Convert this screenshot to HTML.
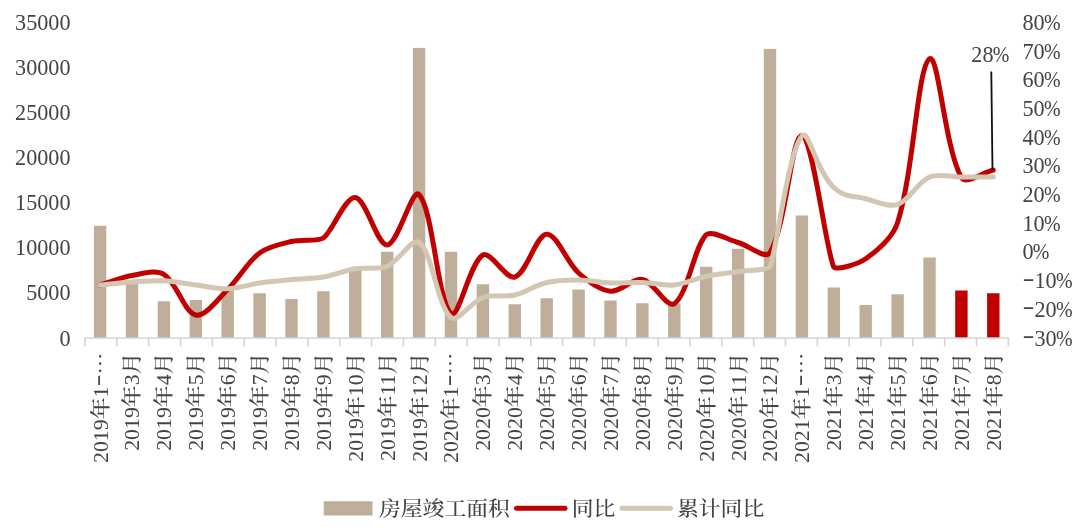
<!DOCTYPE html>
<html lang="zh"><head><meta charset="utf-8"><title>房屋竣工面积</title>
<style>html,body{margin:0;padding:0;background:#fff}svg{display:block;filter:blur(0.35px)}text{font-family:'Liberation Serif','Noto Serif CJK SC',serif;fill:#444}</style></head><body>
<svg width="1080" height="531" viewBox="0 0 1080 531">
<rect width="1080" height="531" fill="#fff"/>
<g>
<rect x="93.90" y="225.75" width="12.40" height="112.25" fill="#BFAE99"/>
<rect x="125.80" y="282.50" width="12.40" height="55.50" fill="#BFAE99"/>
<rect x="157.70" y="301.25" width="12.40" height="36.75" fill="#BFAE99"/>
<rect x="189.60" y="300.00" width="12.40" height="38.00" fill="#BFAE99"/>
<rect x="221.50" y="290.00" width="12.40" height="48.00" fill="#BFAE99"/>
<rect x="253.40" y="293.25" width="12.40" height="44.75" fill="#BFAE99"/>
<rect x="285.30" y="299.00" width="12.40" height="39.00" fill="#BFAE99"/>
<rect x="317.20" y="291.25" width="12.40" height="46.75" fill="#BFAE99"/>
<rect x="349.10" y="270.00" width="12.40" height="68.00" fill="#BFAE99"/>
<rect x="381.00" y="251.75" width="12.40" height="86.25" fill="#BFAE99"/>
<rect x="412.90" y="47.90" width="12.40" height="290.10" fill="#BFAE99"/>
<rect x="444.80" y="251.75" width="12.40" height="86.25" fill="#BFAE99"/>
<rect x="476.70" y="284.25" width="12.40" height="53.75" fill="#BFAE99"/>
<rect x="508.60" y="304.25" width="12.40" height="33.75" fill="#BFAE99"/>
<rect x="540.50" y="298.25" width="12.40" height="39.75" fill="#BFAE99"/>
<rect x="572.40" y="289.50" width="12.40" height="48.50" fill="#BFAE99"/>
<rect x="604.30" y="300.50" width="12.40" height="37.50" fill="#BFAE99"/>
<rect x="636.20" y="303.25" width="12.40" height="34.75" fill="#BFAE99"/>
<rect x="668.10" y="303.50" width="12.40" height="34.50" fill="#BFAE99"/>
<rect x="700.00" y="266.75" width="12.40" height="71.25" fill="#BFAE99"/>
<rect x="731.90" y="248.75" width="12.40" height="89.25" fill="#BFAE99"/>
<rect x="763.80" y="48.90" width="12.40" height="289.10" fill="#BFAE99"/>
<rect x="795.70" y="215.50" width="12.40" height="122.50" fill="#BFAE99"/>
<rect x="827.60" y="287.50" width="12.40" height="50.50" fill="#BFAE99"/>
<rect x="859.50" y="305.00" width="12.40" height="33.00" fill="#BFAE99"/>
<rect x="891.40" y="294.25" width="12.40" height="43.75" fill="#BFAE99"/>
<rect x="923.30" y="257.50" width="12.40" height="80.50" fill="#BFAE99"/>
<rect x="955.20" y="290.50" width="12.40" height="47.50" fill="#C00000"/>
<rect x="987.10" y="293.25" width="12.40" height="44.75" fill="#C00000"/>
</g>
<g stroke="#D4D4D4" stroke-width="1.6" fill="none">
<path d="M84.20 338.00 H1009.16"/>
<path d="M85.00 338.00 V346.20M116.84 338.00 V346.20M148.68 338.00 V346.20M180.52 338.00 V346.20M212.36 338.00 V346.20M244.20 338.00 V346.20M276.04 338.00 V346.20M307.88 338.00 V346.20M339.72 338.00 V346.20M371.56 338.00 V346.20M403.40 338.00 V346.20M435.24 338.00 V346.20M467.08 338.00 V346.20M498.92 338.00 V346.20M530.76 338.00 V346.20M562.60 338.00 V346.20M594.44 338.00 V346.20M626.28 338.00 V346.20M658.12 338.00 V346.20M689.96 338.00 V346.20M721.80 338.00 V346.20M753.64 338.00 V346.20M785.48 338.00 V346.20M817.32 338.00 V346.20M849.16 338.00 V346.20M881.00 338.00 V346.20M912.84 338.00 V346.20M944.68 338.00 V346.20M976.52 338.00 V346.20M1008.36 338.00 V346.20"/>
</g>
<path d="M100.10 285.00 C110.63 281.87 121.25 277.30 132.00 275.50 C142.31 273.77 155.86 269.32 163.90 274.30 C176.92 282.36 184.04 312.20 195.80 315.00 C205.09 317.21 218.07 298.86 227.70 289.50 C239.13 278.40 247.21 262.32 259.60 253.00 C268.27 246.48 280.68 244.04 291.50 241.50 C301.74 239.09 318.01 241.71 323.40 238.00 C332.05 232.03 345.32 196.41 355.30 197.50 C366.38 198.72 376.90 245.48 387.20 245.00 C397.95 244.49 412.23 187.10 419.10 194.50 C433.29 209.79 437.34 300.80 451.00 313.75 C458.40 320.76 469.57 262.68 482.90 255.00 C490.63 250.55 505.94 279.88 514.80 277.00 C526.99 273.03 535.85 234.93 546.70 234.25 C556.91 233.61 566.45 262.14 578.60 273.00 C587.50 280.95 599.56 290.14 610.50 291.25 C620.62 292.28 632.74 277.61 642.40 279.50 C653.79 281.73 667.03 308.84 674.30 303.75 C688.08 294.09 694.17 246.35 706.20 234.80 C711.40 229.81 727.67 239.61 738.10 242.50 C748.72 245.45 765.45 260.13 770.00 252.50 C786.50 224.82 791.95 133.24 801.90 135.50 C813.00 138.02 826.10 252.13 833.80 267.00 C835.67 270.62 857.16 264.71 865.70 258.75 C878.21 250.02 892.87 237.32 897.60 222.50 C913.93 171.32 917.38 67.30 929.50 58.75 C938.43 52.45 944.78 148.51 961.40 177.50 C965.83 185.23 982.77 172.47 993.30 170.00" fill="none" stroke="#C00000" stroke-width="5" stroke-linecap="round" stroke-linejoin="round"/>
<path d="M100.10 285.00 C110.63 284.01 121.45 282.70 132.00 282.00 C142.51 281.30 153.42 280.26 163.90 280.75 C174.47 281.25 185.26 283.68 195.80 285.00 C206.32 286.32 217.22 289.08 227.70 288.75 C238.28 288.42 249.02 284.53 259.60 283.00 C270.07 281.48 280.96 280.49 291.50 279.50 C302.01 278.51 313.03 278.75 323.40 277.00 C334.08 275.20 344.62 270.55 355.30 268.75 C365.67 267.00 377.81 270.11 387.20 266.25 C398.87 261.45 412.20 236.95 419.10 242.50 C433.25 253.87 436.60 305.09 451.00 317.50 C457.65 323.24 471.52 301.51 482.90 297.50 C492.57 294.09 504.63 297.39 514.80 295.00 C525.69 292.44 535.81 285.06 546.70 282.50 C556.87 280.11 568.08 279.92 578.60 280.00 C589.13 280.08 599.95 282.59 610.50 283.00 C621.00 283.41 631.89 282.17 642.40 282.50 C652.94 282.83 663.95 286.01 674.30 285.00 C685.00 283.95 695.53 278.46 706.20 276.25 C716.59 274.10 727.59 273.36 738.10 271.80 C748.64 270.24 768.52 269.95 770.00 266.80 C776.18 253.66 787.38 154.05 801.90 136.00 C808.43 127.88 815.38 169.38 833.80 187.50 C844.09 197.62 854.95 195.89 865.70 198.75 C876.00 201.50 888.44 207.62 897.60 204.50 C909.50 200.44 917.52 182.16 929.50 177.00 C938.57 173.09 950.87 177.00 961.40 177.00 C971.93 177.00 982.77 177.00 993.30 177.00" fill="none" stroke="#D3C7B3" stroke-width="5" stroke-linecap="round" stroke-linejoin="round"/>
<path d="M991.3 71.5 L992.5 170" stroke="#111" stroke-width="1.8" fill="none"/>
<g font-size="22.20" text-anchor="end" fill="#444">
<text x="70.5" y="345.50">0</text>
<text x="70.5" y="300.43">5000</text>
<text x="70.5" y="255.36">10000</text>
<text x="70.5" y="210.29">15000</text>
<text x="70.5" y="165.22">20000</text>
<text x="70.5" y="120.15">25000</text>
<text x="70.5" y="75.08">30000</text>
<text x="70.5" y="30.01">35000</text>
</g>
<g font-size="22.20" fill="#444">
<text x="1022.5" y="345.50"><tspan dy="-2.6" textLength="12" lengthAdjust="spacingAndGlyphs">-</tspan><tspan dy="2.6">30</tspan><tspan dx="-0.8" textLength="16.6" lengthAdjust="spacingAndGlyphs">%</tspan></text>
<text x="1022.5" y="316.82"><tspan dy="-2.6" textLength="12" lengthAdjust="spacingAndGlyphs">-</tspan><tspan dy="2.6">20</tspan><tspan dx="-0.8" textLength="16.6" lengthAdjust="spacingAndGlyphs">%</tspan></text>
<text x="1022.5" y="288.14"><tspan dy="-2.6" textLength="12" lengthAdjust="spacingAndGlyphs">-</tspan><tspan dy="2.6">10</tspan><tspan dx="-0.8" textLength="16.6" lengthAdjust="spacingAndGlyphs">%</tspan></text>
<text x="1022.5" y="259.46">0<tspan dx="-0.8" textLength="16.6" lengthAdjust="spacingAndGlyphs">%</tspan></text>
<text x="1022.5" y="230.78">10<tspan dx="-0.8" textLength="16.6" lengthAdjust="spacingAndGlyphs">%</tspan></text>
<text x="1022.5" y="202.10">20<tspan dx="-0.8" textLength="16.6" lengthAdjust="spacingAndGlyphs">%</tspan></text>
<text x="1022.5" y="173.42">30<tspan dx="-0.8" textLength="16.6" lengthAdjust="spacingAndGlyphs">%</tspan></text>
<text x="1022.5" y="144.74">40<tspan dx="-0.8" textLength="16.6" lengthAdjust="spacingAndGlyphs">%</tspan></text>
<text x="1022.5" y="116.06">50<tspan dx="-0.8" textLength="16.6" lengthAdjust="spacingAndGlyphs">%</tspan></text>
<text x="1022.5" y="87.38">60<tspan dx="-0.8" textLength="16.6" lengthAdjust="spacingAndGlyphs">%</tspan></text>
<text x="1022.5" y="58.70">70<tspan dx="-0.8" textLength="16.6" lengthAdjust="spacingAndGlyphs">%</tspan></text>
<text x="1022.5" y="30.02">80<tspan dx="-0.8" textLength="16.6" lengthAdjust="spacingAndGlyphs">%</tspan></text>
<text x="971.3" y="62">28<tspan dx="-0.8" textLength="16.6" lengthAdjust="spacingAndGlyphs">%</tspan></text>
</g>
<g font-size="20.3" text-anchor="end" font-weight="500" fill="#383838">
<text transform="translate(107.50 352.60) rotate(-90) scale(1.076 1)">2019年1<tspan font-size="32" dy="0.3" font-weight="500" font-family="'Noto Serif CJK SC',serif">-</tspan><tspan dy="-0.3" font-weight="900" font-family="'Noto Serif CJK SC',serif">…</tspan></text>
<text transform="translate(139.40 352.60) rotate(-90) scale(1.076 1)">2019年3月</text>
<text transform="translate(171.30 352.60) rotate(-90) scale(1.076 1)">2019年4月</text>
<text transform="translate(203.20 352.60) rotate(-90) scale(1.076 1)">2019年5月</text>
<text transform="translate(235.10 352.60) rotate(-90) scale(1.076 1)">2019年6月</text>
<text transform="translate(267.00 352.60) rotate(-90) scale(1.076 1)">2019年7月</text>
<text transform="translate(298.90 352.60) rotate(-90) scale(1.076 1)">2019年8月</text>
<text transform="translate(330.80 352.60) rotate(-90) scale(1.076 1)">2019年9月</text>
<text transform="translate(362.70 352.60) rotate(-90) scale(1.076 1)">2019年10月</text>
<text transform="translate(394.60 352.60) rotate(-90) scale(1.076 1)">2019年11月</text>
<text transform="translate(426.50 352.60) rotate(-90) scale(1.076 1)">2019年12月</text>
<text transform="translate(458.40 352.60) rotate(-90) scale(1.076 1)">2020年1<tspan font-size="32" dy="0.3" font-weight="500" font-family="'Noto Serif CJK SC',serif">-</tspan><tspan dy="-0.3" font-weight="900" font-family="'Noto Serif CJK SC',serif">…</tspan></text>
<text transform="translate(490.30 352.60) rotate(-90) scale(1.076 1)">2020年3月</text>
<text transform="translate(522.20 352.60) rotate(-90) scale(1.076 1)">2020年4月</text>
<text transform="translate(554.10 352.60) rotate(-90) scale(1.076 1)">2020年5月</text>
<text transform="translate(586.00 352.60) rotate(-90) scale(1.076 1)">2020年6月</text>
<text transform="translate(617.90 352.60) rotate(-90) scale(1.076 1)">2020年7月</text>
<text transform="translate(649.80 352.60) rotate(-90) scale(1.076 1)">2020年8月</text>
<text transform="translate(681.70 352.60) rotate(-90) scale(1.076 1)">2020年9月</text>
<text transform="translate(713.60 352.60) rotate(-90) scale(1.076 1)">2020年10月</text>
<text transform="translate(745.50 352.60) rotate(-90) scale(1.076 1)">2020年11月</text>
<text transform="translate(777.40 352.60) rotate(-90) scale(1.076 1)">2020年12月</text>
<text transform="translate(809.30 352.60) rotate(-90) scale(1.076 1)">2021年1<tspan font-size="32" dy="0.3" font-weight="500" font-family="'Noto Serif CJK SC',serif">-</tspan><tspan dy="-0.3" font-weight="900" font-family="'Noto Serif CJK SC',serif">…</tspan></text>
<text transform="translate(841.20 352.60) rotate(-90) scale(1.076 1)">2021年3月</text>
<text transform="translate(873.10 352.60) rotate(-90) scale(1.076 1)">2021年4月</text>
<text transform="translate(905.00 352.60) rotate(-90) scale(1.076 1)">2021年5月</text>
<text transform="translate(936.90 352.60) rotate(-90) scale(1.076 1)">2021年6月</text>
<text transform="translate(968.80 352.60) rotate(-90) scale(1.076 1)">2021年7月</text>
<text transform="translate(1000.70 352.60) rotate(-90) scale(1.076 1)">2021年8月</text>
</g>
<rect x="323.75" y="501.25" width="48.75" height="14.25" fill="#BFAE99"/>
<path d="M516.5 508.3 H565" stroke="#C00000" stroke-width="5" stroke-linecap="round"/>
<path d="M622 508.3 H670.5" stroke="#D3C7B3" stroke-width="5" stroke-linecap="round"/>
<g font-size="20.2" font-weight="500" fill="#333">
<text transform="translate(379.00 516) scale(1.080 1)">房屋竣工面积</text>
<text transform="translate(571.70 516) scale(1.080 1)">同比</text>
<text transform="translate(677.00 516) scale(1.080 1)">累计同比</text>
</g>
</svg></body></html>
